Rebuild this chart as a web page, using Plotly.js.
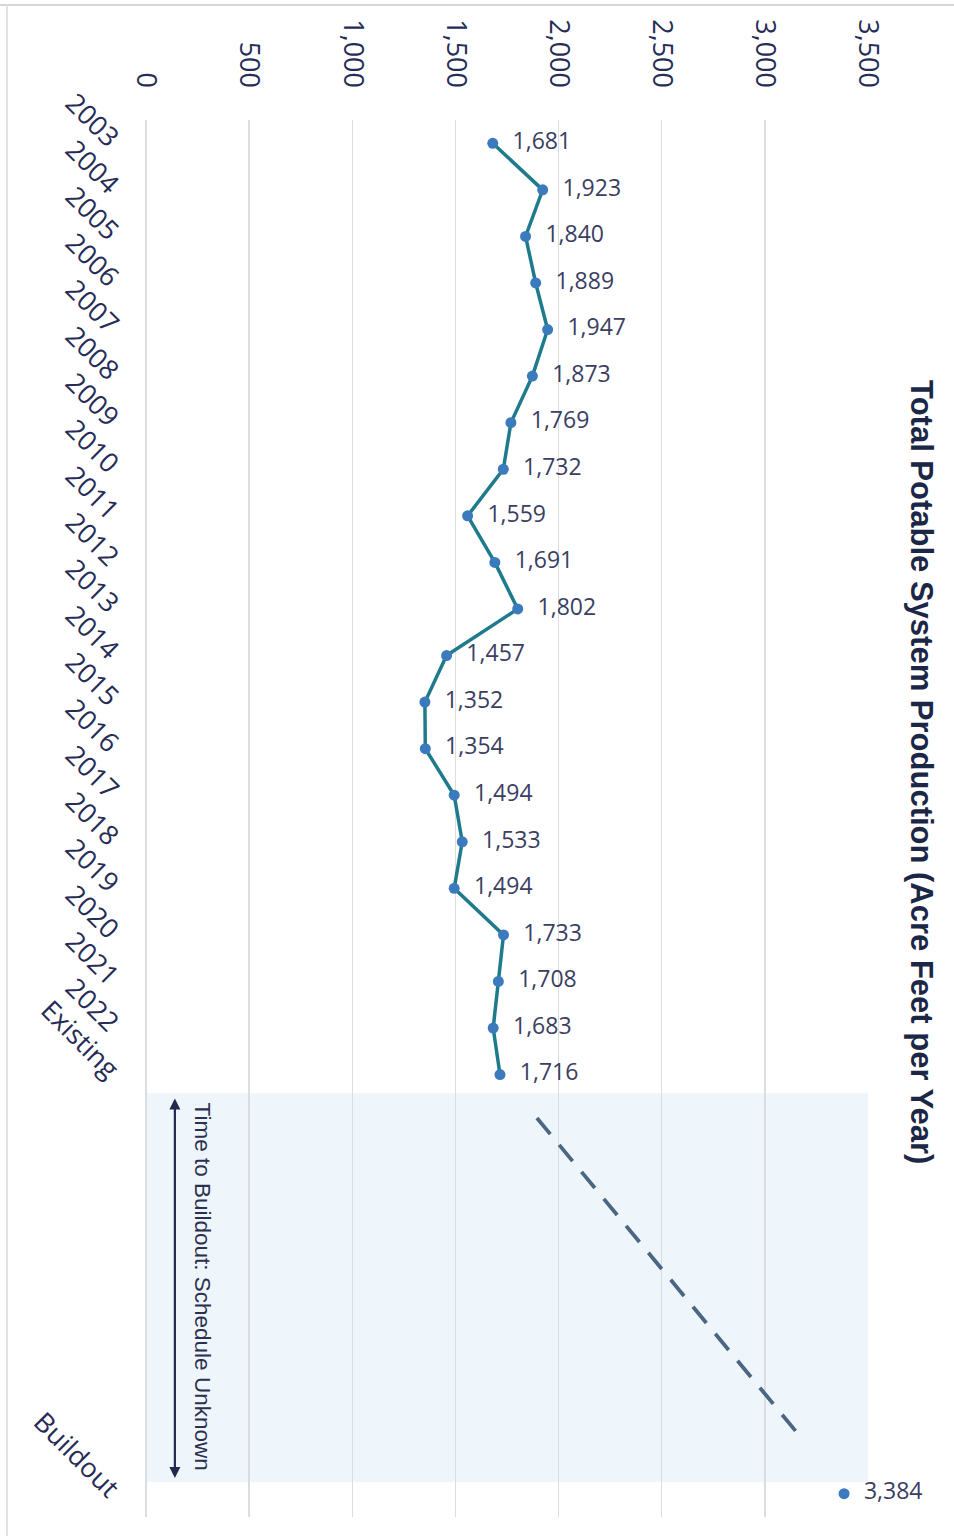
<!DOCTYPE html>
<html>
<head>
<meta charset="utf-8">
<script src="https://cdn.plot.ly/plotly-3.0.1.min.js"></script>
<style>html,body{margin:0;padding:0;background:#fff;}#chart{width:954px;height:1536px;}</style>
</head>
<body>
<div id="chart"></div>
<script>
// ---- data ----
const categories = ['2003','2004','2005','2006','2007','2008','2009','2010','2011','2012',
  '2013','2014','2015','2016','2017','2018','2019','2020','2021','2022','Existing','Buildout'];
const production = [1681,1923,1840,1889,1947,1873,1769,1732,1559,1691,
  1802,1457,1352,1354,1494,1533,1494,1733,1708,1683,1716];
const buildoutValue = [3384];
const projectionValues = [1895, 3156];
const valueTicks = [0,500,1000,1500,2000,2500,3000,3500];
const titleText = 'Total Potable System Production (Acre Feet per Year)';
const noteText = 'Time to Buildout: Schedule Unknown';

// ---- positions (layout) ----
const buildoutSlot = 29;
const histPos = production.map((v,i)=>i);
const tickPos = histPos.concat([buildoutSlot]);
const projPos = [20.93, 27.69];

const L=146, R=86, T=120, B=19, W=954, H=1536;
const pw = W-L-R, ph = H-T-B;
const px2x = p => (p-L)/pw;
const py2y = p => 1-(p-T)/ph;

const tickFont = {family:'Open Sans, sans-serif', size:27, color:'#262c56'};
const labelFont = {family:'Open Sans, sans-serif', size:23, color:'#3a3e62'};

const traces = [
  {
    x: production, y: histPos, type:'scatter', mode:'lines+markers+text',
    line:{color:'#1f7b8c', width:3.5},
    marker:{color:'#3b7bbd', size:11},
    text: production, texttemplate:'  %{x:,}', textposition:'middle right',
    textfont: labelFont, hoverinfo:'skip', cliponaxis:false, showlegend:false
  },
  {
    x: projectionValues, y: projPos, type:'scatter', mode:'lines',
    line:{color:'#4a6683', width:3.8, dash:'21px,14px'},
    hoverinfo:'skip', showlegend:false
  },
  {
    x: buildoutValue, y: [buildoutSlot], type:'scatter', mode:'markers+text',
    marker:{color:'#3b7bbd', size:11},
    text: buildoutValue, texttemplate:'  %{x:,}', textposition:'middle right',
    textfont: labelFont, hoverinfo:'skip', cliponaxis:false, showlegend:false
  }
];

const layout = {
  width: W, height: H,
  margin:{l:L, r:R, t:T, b:B, pad:0},
  paper_bgcolor:'#ffffff', plot_bgcolor:'#ffffff',
  showlegend:false,
  xaxis:{
    range:[0,3500], side:'top', tickvals:valueTicks, tickformat:',',
    tickangle:90, tickfont:tickFont, ticks:'', ticklabelstandoff:27,
    showgrid:true, gridcolor:'#dcdde0', gridwidth:1.5,
    zeroline:true, zerolinecolor:'#dcdde0', zerolinewidth:1.5,
    showline:false, fixedrange:true
  },
  yaxis:{
    range:[buildoutSlot+0.5,-0.5], tickvals:tickPos, ticktext:categories,
    tickangle:45, tickfont:tickFont, ticks:'', ticklabelstandoff:28,
    showgrid:false, zeroline:false, showline:false, fixedrange:true
  },
  shapes:[
    {type:'rect', xref:'x', yref:'y', x0:0, x1:3500, y0:20.4, y1:28.75,
     fillcolor:'#eff6fb', line:{width:0}, layer:'below'},
    {type:'line', xref:'paper', yref:'paper', x0:px2x(0), x1:px2x(954), y0:py2y(5), y1:py2y(5),
     line:{color:'#d6d6d6', width:2}},
    {type:'line', xref:'paper', yref:'paper', x0:px2x(7), x1:px2x(7), y0:py2y(5), y1:py2y(1536),
     line:{color:'#e2e2e2', width:2}}
  ],
  annotations:[
    {text:titleText, xref:'paper', yref:'paper', x:px2x(922), y:py2y(772),
     xanchor:'center', yanchor:'middle', textangle:90, showarrow:false,
     font:{family:'Liberation Sans, Arial, sans-serif', size:31, color:'#1c2746', weight:'bold'}},
    {text:noteText, xref:'x', yref:'y', x:276, y:24.55,
     xanchor:'center', yanchor:'middle', textangle:90, showarrow:false,
     font:{family:'Liberation Sans, Arial, sans-serif', size:22.5, color:'#2b3050'}},
    {text:'', xref:'x', yref:'y', x:140, y:28.66, axref:'x', ayref:'y', ax:140, ay:20.48,
     showarrow:true, arrowhead:2, startarrowhead:2, arrowside:'end+start',
     arrowwidth:2.2, arrowsize:1, startarrowsize:1, arrowcolor:'#1f2a4d', standoff:0, startstandoff:0}
  ]
};

Plotly.newPlot('chart', traces, layout, {staticPlot:true, displayModeBar:false});
</script>
</body>
</html>
